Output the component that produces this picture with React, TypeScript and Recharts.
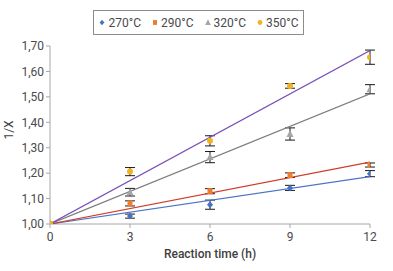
import React from 'react';
import { ComposedChart, Scatter, XAxis, YAxis, ErrorBar } from 'recharts';

// reaction times (h)
const times = [0, 3, 6, 9, 12];

// measured 1/X per temperature, with error bar half widths
const y270 = [1.0, 1.031, 1.076, 1.142, 1.198];
const e270 = [0, 0.008, 0.018, 0.01, 0.012];
const y290 = [1.0, 1.081, 1.129, 1.192, 1.232];
const e290 = [0, 0.01, 0.01, 0.009, 0.008];
const y320 = [1.0, 1.125, 1.263, 1.354, 1.53];
const e320 = [0, 0.015, 0.022, 0.024, 0.018];
const y350 = [1.0, 1.206, 1.327, 1.543, 1.656];
const e350 = [0, 0.016, 0.02, 0.009, 0.028];

// linear trend lines, start and end values
const trendX = [0, 12];
const t270 = [1.0, 1.186];
const t290 = [1.0, 1.243];
const t320 = [1.0, 1.512];
const t350 = [1.0, 1.682];

const yTicks = [1.0, 1.1, 1.2, 1.3, 1.4, 1.5, 1.6, 1.7];

const pts = (ys: number[], es: number[]) => times.map((x, i) => ({ x, y: ys[i], err: es[i] }));
const line = (ys: number[]) => trendX.map((x, i) => ({ x, y: ys[i] }));

const FONT = 'Roboto, "Noto Sans", sans-serif';

const Diamond = ({ cx, cy, fill }: any) => (
  <path d={`M${cx},${cy - 3.5}L${cx + 3},${cy}L${cx},${cy + 3.5}L${cx - 3},${cy}Z`} fill={fill} />
);
const Square = ({ cx, cy, fill }: any) => <rect x={cx - 2.5} y={cy - 3} width={5} height={6} fill={fill} />;
const Triangle = ({ cx, cy, fill }: any) => (
  <path d={`M${cx},${cy - 4}L${cx + 3.5},${cy + 3}L${cx - 3.5},${cy + 3}Z`} fill={fill} />
);
const Circle = ({ cx, cy, fill }: any) => <circle cx={cx} cy={cy} r={3} fill={fill} />;
const NoDot = () => null;

const series = [
  { name: '270°C', color: '#4472C4', line: '#4A74C6', data: pts(y270, e270), trend: line(t270), shape: Diamond },
  { name: '290°C', color: '#ED7D31', line: '#CF3A26', data: pts(y290, e290), trend: line(t290), shape: Square },
  { name: '320°C', color: '#A5A5A5', line: '#7F7F7F', data: pts(y320, e320), trend: line(t320), shape: Triangle },
  { name: '350°C', color: '#F2B41C', line: '#7850B8', data: pts(y350, e350), trend: line(t350), shape: Circle },
];

const LegendBox = () => (
  <div
    style={{
      position: 'absolute',
      left: 93,
      top: 10,
      width: 209,
      height: 23,
      border: '1px solid #8C8C8C',
      display: 'flex',
      alignItems: 'center',
      justifyContent: 'center',
      gap: 10,
      fontFamily: FONT,
      fontSize: 12,
      color: '#4A4A4A',
    }}
  >
    {series.map((s) => {
      const S = s.shape;
      return (
        <span key={s.name} style={{ display: 'flex', alignItems: 'center', gap: 2 }}>
          <svg width={8} height={9} viewBox="0 0 10 10">
            <S cx={5} cy={5} fill={s.color} />
          </svg>
          {s.name}
        </span>
      );
    })}
  </div>
);

const YLabel = () => (
  <text
    x={9}
    y={130}
    transform="rotate(-90, 9, 130)"
    textAnchor="middle"
    dominantBaseline="central"
    fontFamily={FONT}
    fontSize={12}
    fill="#404040"
  >
    1/X
  </text>
);

export default function App() {
  return (
    <div style={{ position: 'absolute', left: 0, top: 0, width: 393, height: 271, background: '#fff' }}>
      <ComposedChart width={393} height={271} margin={{ top: 46, right: 23, bottom: 0, left: 0 }}>
        <XAxis
          type="number"
          dataKey="x"
          domain={[0, 12]}
          ticks={times}
          allowDataOverflow
          height={47}
          tickSize={4}
          tickMargin={4}
          axisLine={{ stroke: '#A6A6A6' }}
          tickLine={{ stroke: '#A6A6A6' }}
          tick={{ fill: '#4A4A4A', fontSize: 12, fontFamily: FONT }}
          label={{
            value: 'Reaction time (h)',
            position: 'insideBottom',
            offset: 13,
            fill: '#404040',
            fontSize: 12,
            fontWeight: 500,
            fontFamily: FONT,
          }}
        />
        <YAxis
          type="number"
          dataKey="y"
          domain={[1, 1.7]}
          ticks={yTicks}
          allowDataOverflow
          width={50}
          tickSize={4}
          tickMargin={2}
          axisLine={{ stroke: '#A6A6A6' }}
          tickLine={{ stroke: '#A6A6A6' }}
          tick={{ fill: '#4A4A4A', fontSize: 12, fontFamily: FONT }}
          tickFormatter={(v: number) => v.toFixed(2).replace('.', ',')}
          label={<YLabel />}
        />
        {series.map((s) => (
          <Scatter
            key={'t' + s.name}
            data={s.trend}
            line={{ stroke: s.line, strokeWidth: 1.2 }}
            shape={NoDot}
            legendType="none"
            isAnimationActive={false}
          />
        ))}
        {series.map((s) => (
          <Scatter
            key={s.name}
            name={s.name}
            data={s.data}
            fill={s.color}
            shape={s.shape}
            isAnimationActive={false}
          />
        ))}
        {series.map((s) => (
          <Scatter
            key={'e' + s.name}
            data={s.data}
            shape={NoDot}
            legendType="none"
            isAnimationActive={false}
          >
            <ErrorBar dataKey="err" direction="y" width={5} stroke="#1A1A1A" strokeWidth={1} />
          </Scatter>
        ))}
      </ComposedChart>
      <LegendBox />
    </div>
  );
}
